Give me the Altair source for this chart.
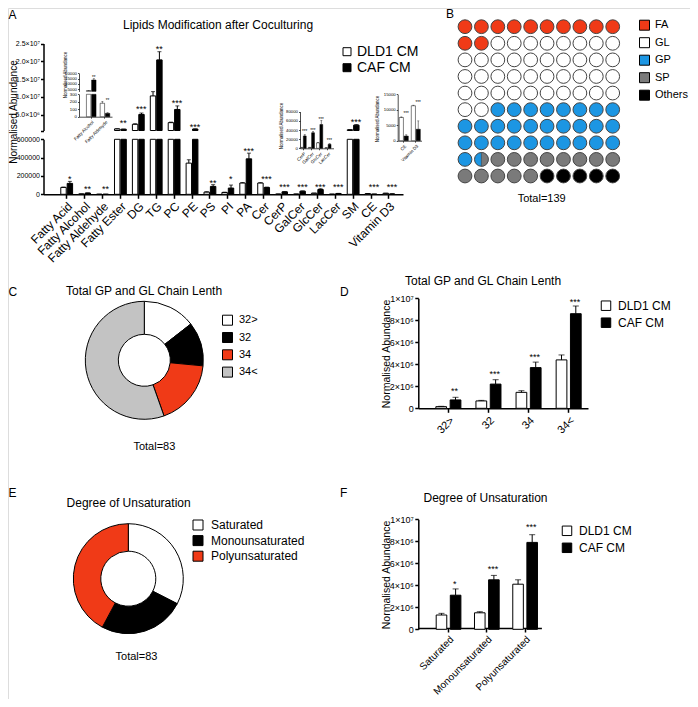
import math
import altair as alt
import pandas as pd

FONT = "Liberation Sans"
OX = OY = 8
W, H = 682, 691


def px(v):
    return v - OX


def py(v):
    return v - OY


GROUPS = ["DLD1 CM", "CAF CM"]
GROUP_FILLS = ["white", "black"]
RED = "#f03a17"

# ---------------- Panel A : main chart ----------------
a_cats = ["Fatty Acid", "Fatty Alcohol", "Fatty Aldehyde", "Fatty Ester", "DG", "TG", "PC", "PE", "PS", "PI",
          "PA", "Cer", "CerP", "GalCer", "GlcCer", "LacCer", "SM", "CE", "Vitamin D3"]
a_dld1 = [75000, 3800, 180, 1.05e6, 2.34e6, 1.03e7, 2.8e6, 340000, 24000, 20000,
          123000, 123000, 2000, 2000, 12000, 1000, 0.8e6, 7500, 11300]
a_dld1_err = [4000, 300, 25, 0.05e6, 0.15e6, 1.2e6, 0.15e6, 37000, 4000, 3000,
              5000, 4000, 300, 300, 1000, 200, 0.05e6, 200, 200]
a_caf = [119000, 13700, 45, 0.95e6, 5.1e6, 2.04e7, 6.5e6, 1.0e6, 86000, 68000,
         387000, 75000, 27000, 34000, 52000, 8700, 2.1e6, 1500, 3700]
a_caf_err = [22000, 1200, 8, 0.05e6, 0.4e6, 2.3e6, 1.0e6, 0.05e6, 19000, 33000,
             62000, 3000, 3000, 3000, 9000, 1500, 0.15e6, 400, 2700]
a_stars = ["*", "**", "**", "**", "***", "**", "***", "***", "**", "*", "***", "***",
           "***", "***", "***", "***", "***", "***", "***"]
a_star_y = [196000, 80000, 80000, 3.3e6, 7.3e6, 2.41e7, 8.9e6, 2.3e6, 149000, 196000,
            498000, 196000, 100000, 100000, 100000, 100000, 3.5e6, 100000, 100000]
a_low_ticks = [0, 200000, 400000, 600000]
a_low_labels = ["0", "200000", "400000", "600000"]
a_up_ticks = [600000, 5e6, 1e7, 1.5e7, 2e7, 2.5e7]
a_up_labels = ["", "5.0×10⁶", "1.0×10⁷", "1.5×10⁷", "2.0×10⁷", "2.5×10⁷"]

# inset 1 : fatty alcohol / aldehyde
i1_cats = ["Fatty Alcohol", "Fatty Aldehyde"]
i1_dld1 = [3800, 180]
i1_dld1_err = [300, 25]
i1_caf = [13700, 45]
i1_caf_err = [1200, 8]
i1_stars = ["**", "**"]
i1_star_y = [16800, 230]
i1_up_ticks = [5000, 10000, 15000, 20000]
i1_low_ticks = [0, 100, 200, 300]

# inset 2 : ceramides
i2_cats = ["CerP", "GalCer", "GlcCer", "LacCer"]
i2_dld1 = [2000, 2000, 12000, 1000]
i2_dld1_err = [300, 300, 1000, 200]
i2_caf = [27000, 34000, 52000, 8700]
i2_caf_err = [3000, 3000, 9000, 1500]
i2_stars = ["***", "***", "***", "***"]
i2_star_y = [40000, 42000, 66000, 19000]
i2_ticks = [0, 20000, 40000, 60000, 80000]

# inset 3 : CE / vitamin D3
i3_cats = ["CE", "Vitamin D3"]
i3_dld1 = [7500, 11300]
i3_dld1_err = [200, 200]
i3_caf = [1500, 3700]
i3_caf_err = [400, 2700]
i3_stars = ["***", "***"]
i3_star_y = [9000, 12600]
i3_ticks = [0, 5000, 10000, 15000]

# ---------------- Panel B : waffle (percent of 100 cells) ----------------
b_cats = ["FA", "GL", "GP", "SP", "Others"]
b_counts = [12, 40, 29.5, 13.5, 5]
b_colors = [RED, "white", "#1c96e3", "#7a7a7a", "black"]

# ---------------- Panel C : donut ----------------
c_cats = ["32>", "32", "34", "34<"]
c_counts = [12, 10, 15, 46]
c_colors = ["white", "black", RED, "#c3c3c3"]

# ---------------- Panel D : bars ----------------
d_cats = ["32>", "32", "34", "34<"]
d_dld1 = [0.15e6, 0.67e6, 1.45e6, 4.4e6]
d_dld1_err = [0.03e6, 0.05e6, 0.15e6, 0.45e6]
d_caf = [0.76e6, 2.2e6, 3.7e6, 8.6e6]
d_caf_err = [0.24e6, 0.4e6, 0.5e6, 0.7e6]
d_stars = ["**", "***", "***", "***"]
d_star_y = [1.73e6, 3.33e6, 4.85e6, 9.9e6]
df_ticks = [0, 2e6, 4e6, 6e6, 8e6, 1e7]
df_labels = ["0", "2×10⁶", "4×10⁶", "6×10⁶", "8×10⁶", "1×10⁷"]

# ---------------- Panel E : donut ----------------
e_cats = ["Saturated", "Monounsaturated", "Polyunsaturated"]
e_counts = [27, 21, 35]
e_colors = ["white", "black", RED]

# ---------------- Panel F : bars ----------------
f_cats = ["Saturated", "Monounsaturated", "Polyunsaturated"]
f_dld1 = [1.3e6, 1.5e6, 4.1e6]
f_dld1_err = [0.15e6, 0.1e6, 0.4e6]
f_caf = [3.1e6, 4.5e6, 7.9e6]
f_caf_err = [0.57e6, 0.4e6, 0.7e6]
f_stars = ["*", "***", "***"]
f_star_y = [4.33e6, 5.7e6, 9.5e6]


# ---------------- helpers ----------------
def label_expr(values, labels):
    expr = "''"
    for v, l in zip(reversed(values), reversed(labels)):
        expr = f"datum.value == {v} ? '{l}' : ({expr})"
    return expr


def y_axis(x_img, values, labels, size, tick=3.0, width=1.2, pad=2):
    return alt.Axis(orient="left", offset=-px(x_img), values=values, labelExpr=label_expr(values, labels),
                    title=None, labelFontSize=size, labelFont=FONT, labelColor="black", tickSize=tick,
                    tickWidth=width, tickColor="black", domainColor="black", domainWidth=width,
                    labelPadding=pad, grid=False, labelFlush=False, labelOverlap=False)


def x_axis(y_img, size, angle, tick=3.0, width=1.2, pad=2):
    return alt.Axis(orient="bottom", offset=py(y_img) - H, title=None, labelAngle=angle, labelAlign="right",
                    labelBaseline="top", labelFontSize=size, labelFont=FONT, labelColor="black",
                    tickSize=tick, tickWidth=width, tickColor="black", domainColor="black",
                    domainWidth=width, labelPadding=pad, grid=False, labelOverlap=False)


def long_df(cats, w, we, b, be):
    rows = []
    for i, c in enumerate(cats):
        rows.append(dict(cat=c, grp=GROUPS[0], val=w[i], err=we[i]))
        rows.append(dict(cat=c, grp=GROUPS[1], val=b[i], err=be[i]))
    return pd.DataFrame(rows)


def grouped(cats, w, we, b, be, xr, xpi, xpo, xalign, lo, hi, yr, yaxis=None, xaxis=None,
            stroke_w=1.0, cap=4, err_w=1.0, legend=None, stars=None, star_y=None, star_size=10,
            off_pi=0.2):
    df = long_df(cats, w, we, b, be)
    xs = alt.Scale(domain=cats, range=xr, paddingInner=xpi, paddingOuter=xpo, align=xalign)
    ys = alt.Scale(domain=[lo, hi], range=yr, nice=False, zero=False)

    def X(ax=None):
        return alt.X("cat:N", sort=cats, scale=xs, axis=ax)

    def XO():
        return alt.XOffset("grp:N", sort=GROUPS, scale=alt.Scale(domain=GROUPS, paddingInner=off_pi))

    out = []
    bd = df[df.val > lo].copy()
    bd["top"] = bd.val.clip(upper=hi)
    bd["base"] = lo
    out.append(alt.Chart(bd).mark_bar(stroke="black", strokeWidth=stroke_w).encode(
        x=X(xaxis), xOffset=XO(), y=alt.Y("top:Q", scale=ys, axis=yaxis), y2="base:Q",
        fill=alt.Fill("grp:N", sort=GROUPS, scale=alt.Scale(domain=GROUPS, range=GROUP_FILLS), legend=legend)))
    ed = df[(df.val >= lo) & (df.val < hi) & (df.err > 0)].copy()
    ed["etop"] = (ed.val + ed.err).clip(upper=hi)
    if len(ed):
        out.append(alt.Chart(ed).mark_rule(color="black", strokeWidth=err_w).encode(
            x=X(), xOffset=XO(), y=alt.Y("val:Q", scale=ys, axis=None), y2="etop:Q"))
        out.append(alt.Chart(ed).mark_tick(color="black", thickness=err_w, size=cap).encode(
            x=X(), xOffset=XO(), y=alt.Y("etop:Q", scale=ys, axis=None)))
    if stars is not None:
        sd = pd.DataFrame(dict(cat=cats, grp=GROUPS[1], s=stars, sy=star_y))
        sd = sd[(sd.sy >= lo) & (sd.sy <= hi)]
        if len(sd):
            out.append(alt.Chart(sd).mark_text(fontSize=star_size, font=FONT, fill="#000000",
                                               baseline="alphabetic", dy=0.58 * star_size).encode(
                x=X(), xOffset=XO(), y=alt.Y("sy:Q", scale=ys, axis=None), text="s:N"))
    return out


def text(t, x, y, size, align="left", angle=0, baseline="alphabetic"):
    return alt.Chart(pd.DataFrame({"t": [t]})).mark_text(
        align=align, baseline=baseline, fontSize=size, font=FONT, angle=angle, fill="black").encode(
        x=alt.value(px(x)), y=alt.value(py(y)), text="t:N")


def legend_at(x, y, size, sym=64, row_pad=2, offset=4):
    return alt.Legend(orient="none", legendX=px(x), legendY=py(y), title=None, symbolType="square",
                      symbolSize=sym, symbolStrokeColor="black", symbolStrokeWidth=1, labelFontSize=size,
                      labelFont=FONT, labelColor="black", rowPadding=row_pad, labelOffset=offset, padding=0)


layers = []

# ---- Panel A
A_XR = [px(43.5), px(403)]
A_LOW = (0, 600000, [py(194.3), py(139.3)])
A_UP = (600000, 2.5e7, [py(130.5), py(43.5)])
layers += grouped(a_cats, a_dld1, a_dld1_err, a_caf, a_caf_err, A_XR, 0.34, 0.71, 0.68, *A_LOW,
                  yaxis=y_axis(43.5, a_low_ticks, a_low_labels, 7, tick=3, width=1.5, pad=1),
                  xaxis=x_axis(194.3, 12, -45, tick=4, width=1.5),
                  legend=legend_at(340, 44.7, 14, sym=64, row_pad=2, offset=3),
                  stars=a_stars, star_y=a_star_y, star_size=9, off_pi=0.15)
layers += grouped(a_cats, a_dld1, a_dld1_err, a_caf, a_caf_err, A_XR, 0.34, 0.71, 0.68, *A_UP,
                  yaxis=y_axis(43.5, a_up_ticks, a_up_labels, 7, tick=3, width=1.5, pad=1),
                  stars=a_stars, star_y=a_star_y, star_size=9, off_pi=0.15)
layers.append(text("A", 8.5, 18.5, 12))
layers.append(text("Lipids Modification after Coculturing", 218, 28.5, 12, align="center"))
layers.append(text("Normalised Abundance", 17, 112, 10, align="center", angle=270))

# inset 1
I1_XR = [px(79), px(112)]
layers += grouped(i1_cats, i1_dld1, i1_dld1_err, i1_caf, i1_caf_err, I1_XR, 0.3, 0.35, 0.77,
                  0, 300, [py(116.7), py(94.3)],
                  yaxis=y_axis(79, i1_low_ticks, [str(v) for v in i1_low_ticks], 4.3, tick=1.5, width=0.7, pad=1),
                  xaxis=x_axis(116.7, 4.5, -45, tick=1.5, width=0.7, pad=1),
                  stroke_w=0.5, cap=2, err_w=0.5, stars=i1_stars, star_y=i1_star_y, star_size=4.5, off_pi=0.15)
layers += grouped(i1_cats, i1_dld1, i1_dld1_err, i1_caf, i1_caf_err, I1_XR, 0.3, 0.35, 0.77,
                  3000, 20000, [py(91.4), py(73.3)],
                  yaxis=y_axis(79, i1_up_ticks, [str(v) for v in i1_up_ticks], 4.3, tick=1.5, width=0.7, pad=1),
                  stroke_w=0.5, cap=2, err_w=0.5, stars=i1_stars, star_y=i1_star_y, star_size=4.5, off_pi=0.15)
layers.append(text("Normalised Abundance", 66, 75, 4.5, align="center", angle=270, baseline="middle"))

# inset 2
layers += grouped(i2_cats, i2_dld1, i2_dld1_err, i2_caf, i2_caf_err, [px(300), px(333.5)], 0.25, 0.15, 0.0,
                  0, 80000, [py(148.3), py(111.7)],
                  yaxis=y_axis(300, i2_ticks, [str(v) for v in i2_ticks], 4.3, tick=1.5, width=0.7, pad=1),
                  xaxis=x_axis(148.3, 4.5, -45, tick=1.5, width=0.7, pad=1),
                  stroke_w=0.5, cap=2, err_w=0.5, stars=i2_stars, star_y=i2_star_y, star_size=4.5, off_pi=0.15)
layers.append(text("Normalised Abundance", 282, 126, 4.5, align="center", angle=270, baseline="middle"))

# inset 3
layers += grouped(i3_cats, i3_dld1, i3_dld1_err, i3_caf, i3_caf_err, [px(397.7), px(421.5)], 0.25, 0.115, 0.57,
                  0, 15000, [py(140.7), py(94.3)],
                  yaxis=y_axis(397.7, i3_ticks, [str(v) for v in i3_ticks], 4.3, tick=1.5, width=0.7, pad=1),
                  xaxis=x_axis(140.7, 4.5, -45, tick=1.5, width=0.7, pad=1),
                  stroke_w=0.5, cap=2, err_w=0.5, stars=i3_stars, star_y=i3_star_y, star_size=4.5, off_pi=0.15)
layers.append(text("Normalised Abundance", 378, 119, 4.5, align="center", angle=270, baseline="middle"))

# ---- Panel B waffle
bounds = []
acc = 0.0
for n in b_counts:
    acc += n
    bounds.append(acc)
cells, parts = [], []
for k in range(100):
    ci = next(i for i, bnd in enumerate(bounds) if bnd > k)
    cells.append(dict(cat=b_cats[ci], col=k % 10, row=k // 10))
    if bounds[ci] < k + 1 and ci + 1 < len(b_cats):
        parts.append(dict(cat=b_cats[ci + 1], col=k % 10, row=k // 10, t0=0.0, t1=k + 1 - bounds[ci]))
b_df = pd.DataFrame(cells)
BX = alt.Scale(domain=[0, 9], range=[px(465), px(612.7)], nice=False, zero=False)
BY = alt.Scale(domain=[0, 9], range=[py(26.7), py(176)], nice=False, zero=False)
BF = alt.Scale(domain=b_cats, range=b_colors)
layers.append(alt.Chart(b_df).mark_point(shape="circle", filled=True, size=190, stroke="#444",
                                         strokeWidth=1, opacity=1).encode(
    x=alt.X("col:Q", scale=BX, axis=None),
    y=alt.Y("row:Q", scale=BY, axis=None),
    fill=alt.Fill("cat:N", sort=b_cats, scale=BF,
                  legend=legend_at(639, 19.7, 11, sym=100, row_pad=2.5, offset=5))))
if parts:
    layers.append(alt.Chart(pd.DataFrame(parts)).mark_arc(outerRadius=6.9, innerRadius=0, stroke="#444",
                                                         strokeWidth=0.6).encode(
        x=alt.X("col:Q", scale=BX, axis=None),
        y=alt.Y("row:Q", scale=BY, axis=None),
        theta=alt.Theta("t0:Q", scale=alt.Scale(domain=[0, 1], range=[0, 2 * math.pi])),
        theta2="t1:Q",
        fill=alt.Fill("cat:N", scale=BF, legend=None)))
layers.append(text("B", 446, 18, 12))
layers.append(text("Total=139", 541.7, 202.3, 11, align="center"))


# ---- donuts
def donut(cats, counts, colors, cx, cy, r_in, r_out, leg):
    d = pd.DataFrame(dict(cat=cats, n=counts, i=list(range(len(cats)))))
    return alt.Chart(d).mark_arc(innerRadius=r_in, outerRadius=r_out, stroke="black", strokeWidth=1).encode(
        theta=alt.Theta("n:Q", stack=True),
        order=alt.Order("i:Q"),
        fill=alt.Fill("cat:N", sort=cats, scale=alt.Scale(domain=cats, range=colors), legend=leg),
        x=alt.value(px(cx)), y=alt.value(py(cy)))


layers.append(donut(c_cats, c_counts, c_colors, 144.3, 360.3, 26, 59,
                    legend_at(222, 314.7, 11, sym=100, row_pad=2.3, offset=6)))
layers.append(text("C", 8.5, 296, 12))
layers.append(text("Total GP and GL Chain Lenth", 144, 295, 12, align="center"))
layers.append(text("Total=83", 154.4, 450, 11, align="center"))

layers.append(donut(e_cats, e_counts, e_colors, 128.3, 578.7, 27.5, 55,
                    legend_at(192, 519, 12, sym=100, row_pad=1.6, offset=7)))
layers.append(text("E", 8.5, 497, 12))
layers.append(text("Degree of Unsaturation", 128.6, 506.5, 12, align="center"))
layers.append(text("Total=83", 136.5, 659.7, 11, align="center"))

# ---- Panel D
layers += grouped(d_cats, d_dld1, d_dld1_err, d_caf, d_caf_err, [px(418.3), px(588)], 0.376, 0.304, 0.72,
                  0, 1e7, [py(408.3), py(298.3)],
                  yaxis=y_axis(418.3, df_ticks, df_labels, 9, tick=3.5, width=1.5, pad=1.5),
                  xaxis=x_axis(408.3, 11, -45, tick=4, width=1.5),
                  legend=legend_at(600, 299.7, 12, sym=90, row_pad=3, offset=6),
                  stars=d_stars, star_y=d_star_y, star_size=9, cap=6, off_pi=0.25)
layers.append(text("D", 340, 296, 12))
layers.append(text("Total GP and GL Chain Lenth", 483, 285, 12, align="center"))
layers.append(text("Normalised Abundance", 390, 354, 10.5, align="center", angle=270))

# ---- Panel F
layers += grouped(f_cats, f_dld1, f_dld1_err, f_caf, f_caf_err, [px(418.3), px(541.4)], 0.355, 0.285, 0.82,
                  0, 1e7, [py(629.3), py(519.3)],
                  yaxis=y_axis(418.3, df_ticks, df_labels, 9, tick=3.5, width=1.5, pad=1.5),
                  xaxis=x_axis(628, 10, -45, tick=4, width=1.5),
                  legend=legend_at(561, 524.8, 12, sym=90, row_pad=3, offset=6),
                  stars=f_stars, star_y=f_star_y, star_size=9, cap=6, off_pi=0.25)
layers.append(text("F", 340, 497, 12))
layers.append(text("Degree of Unsaturation", 485.5, 501.5, 12, align="center"))
layers.append(text("Normalised Abundance", 390, 575, 10.5, align="center", angle=270))

chart = alt.layer(*layers).resolve_scale(
    x="independent", y="independent", xOffset="independent", fill="independent", theta="independent"
).properties(
    width=W, height=H, autosize=alt.AutoSizeParams(type="none"), padding=0
).configure_view(stroke=None).configure(font=FONT)

chart.save("out.html", embed_options={"renderer": "svg", "actions": False})
